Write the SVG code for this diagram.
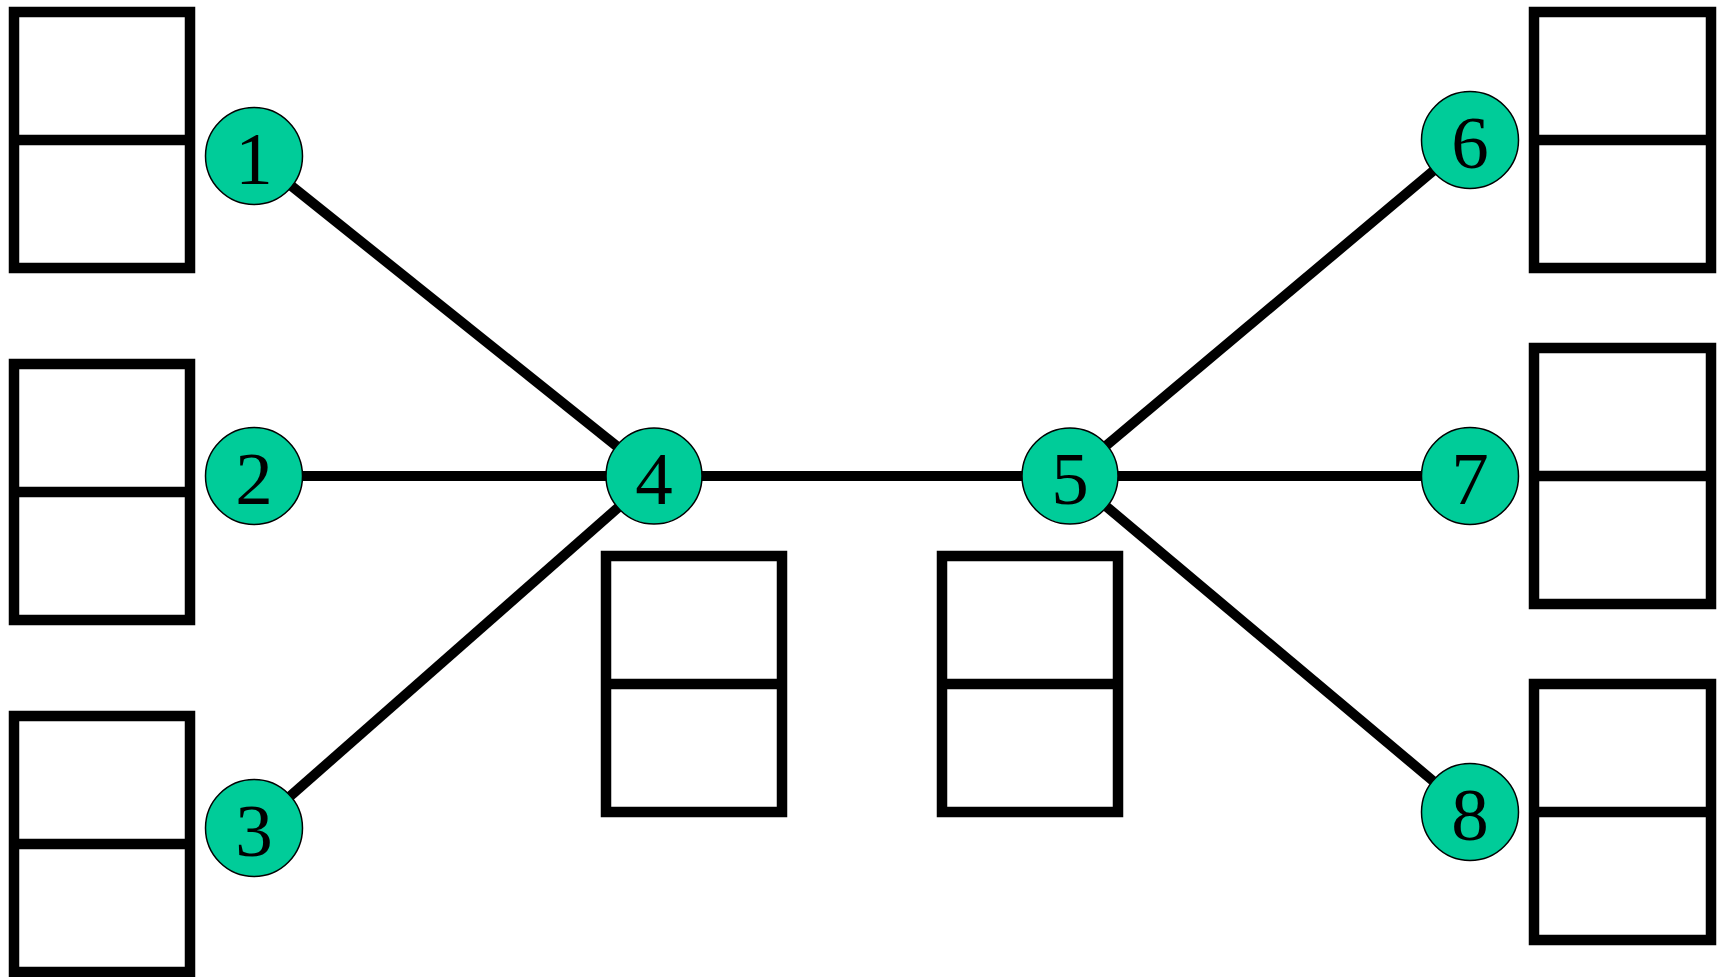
<svg xmlns="http://www.w3.org/2000/svg" width="1725" height="977" viewBox="0 0 1725 977">
<style>
.box rect{fill:#fff;stroke:#000;stroke-width:10.5}
.box line{stroke:#000;stroke-width:10.5}
.edges line{stroke:#000;stroke-width:10}
.node circle{fill:#00CC99;stroke:#000;stroke-width:1.5}
.node text{font-family:"Liberation Serif","Times New Roman",serif;font-size:75px;fill:#000;text-anchor:middle}
</style>
<rect width="1725" height="977" fill="#fff"/>
<g id="boxes">
<g id="box1" class="box"><rect x="14" y="12" width="176" height="256"/><line x1="9" y1="140" x2="195" y2="140"/></g>
<g id="box2" class="box"><rect x="14" y="364" width="176" height="256"/><line x1="9" y1="492" x2="195" y2="492"/></g>
<g id="box3" class="box"><rect x="14" y="716" width="176" height="256"/><line x1="9" y1="844" x2="195" y2="844"/></g>
<g id="box4" class="box"><rect x="606" y="556" width="176" height="256"/><line x1="601" y1="684" x2="787" y2="684"/></g>
<g id="box5" class="box"><rect x="942" y="556" width="176" height="256"/><line x1="937" y1="684" x2="1123" y2="684"/></g>
<g id="box6" class="box"><rect x="1534" y="12" width="177" height="256"/><line x1="1529" y1="140" x2="1716" y2="140"/></g>
<g id="box7" class="box"><rect x="1534" y="348" width="177" height="256"/><line x1="1529" y1="476" x2="1716" y2="476"/></g>
<g id="box8" class="box"><rect x="1534" y="684" width="177" height="256"/><line x1="1529" y1="812" x2="1716" y2="812"/></g>
</g>
<g id="connectors" class="edges">
<line x1="254" y1="156" x2="654" y2="476"/>
<line x1="254" y1="476" x2="654" y2="476"/>
<line x1="254" y1="828" x2="654" y2="476"/>
<line x1="654" y1="476" x2="1070" y2="476"/>
<line x1="1070" y1="476" x2="1470" y2="140"/>
<line x1="1070" y1="476" x2="1470" y2="476"/>
<line x1="1070" y1="476" x2="1470" y2="812"/>
</g>
<g id="node1" class="node"><circle cx="254" cy="156" r="48.5"/><text x="254" y="184">1</text></g>
<g id="node2" class="node"><circle cx="254" cy="476" r="48.5"/><text x="254" y="504">2</text></g>
<g id="node3" class="node"><circle cx="254" cy="828" r="48.5"/><text x="254" y="856">3</text></g>
<g id="node4" class="node"><circle cx="654" cy="476" r="48"/><text x="654" y="504">4</text></g>
<g id="node5" class="node"><circle cx="1070" cy="476" r="48"/><text x="1070" y="504">5</text></g>
<g id="node6" class="node"><circle cx="1470" cy="140" r="48.5"/><text x="1470" y="168">6</text></g>
<g id="node7" class="node"><circle cx="1470" cy="476" r="48.5"/><text x="1470" y="504">7</text></g>
<g id="node8" class="node"><circle cx="1470" cy="812" r="48.5"/><text x="1470" y="840">8</text></g>
</svg>
